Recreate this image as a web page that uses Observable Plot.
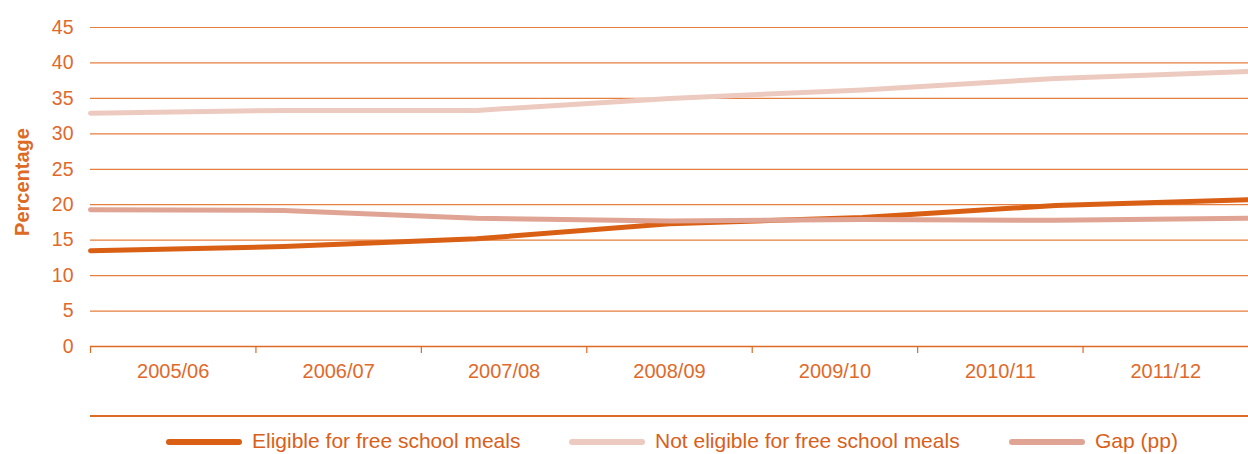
<!DOCTYPE html>
<html><head><meta charset="utf-8">
<script src="https://cdn.jsdelivr.net/npm/d3@7"></script>
<script src="https://cdn.jsdelivr.net/npm/@observablehq/plot@0.6"></script>
<style>
body{margin:0;background:#fff;font-family:"Liberation Sans",Arial,sans-serif;}
#wrap{position:relative;width:1248px;height:454px;overflow:hidden;}
#sep{position:absolute;left:90px;top:415px;width:1158px;height:0;border-top:2px solid #dd6a25;}
.item{position:absolute;top:429px;display:flex;align-items:flex-start;color:#d9601a;font-size:21px;line-height:24px;white-space:nowrap;}
.sw{width:76px;height:6px;border-radius:3px;margin-right:10px;margin-top:10px;}
</style></head>
<body>
<div id="wrap"><div id="chart"></div><div id="sep"></div><div id="legend"></div></div>
<script>
const years = ["2005/06","2006/07","2007/08","2008/09","2009/10","2010/11","2011/12"];
const eligible = [13.5,14.1,15.2,17.3,18.2,19.9,20.7];
const notEligible = [32.9,33.3,33.3,35.0,36.2,37.8,38.8];
const gap = [19.3,19.2,18.1,17.7,17.9,17.8,18.1];
const yTicks = [0,5,10,15,20,25,30,35,40,45];
const seriesNames = ["Eligible for free school meals","Not eligible for free school meals","Gap (pp)"];
const seriesColors = ["#d95f14","#edcac0","#e0a494"];
const legendLeft = [166,569,1009];

const n = years.length;
const rows = [];
[eligible, notEligible, gap].forEach((vals, s) => {
  vals.forEach((v, i) => rows.push({series: seriesNames[s], x: i * n / (n - 1), v}));
});
const centers = years.map((y, i) => i + 0.5);
const bounds = years.map((y, i) => i);
const textColor = "#e0692a";
const gridColor = "#e57f3f";

const chart = Plot.plot({
  width: 1248, height: 400,
  marginLeft: 90, marginRight: 0, marginTop: 27, marginBottom: 54,
  style: {fontFamily: '"Liberation Sans", Arial, sans-serif', background: "#fff", overflow: "visible"},
  x: {type: "linear", domain: [0, n]},
  y: {type: "linear", domain: [0, 45]},
  color: {domain: seriesNames, range: seriesColors},
  marks: [
    Plot.ruleY(yTicks.filter(d => d > 0), {stroke: gridColor, strokeWidth: 1.2}),
    Plot.ruleY([0], {stroke: "#dd6a25", strokeWidth: 1.5}),
    Plot.axisY({ticks: yTicks, tickSize: 0, tickPadding: 17, fontSize: 19.5, fill: textColor, label: null}),
    Plot.axisX({ticks: bounds, tickSize: 7, tickFormat: () => "", stroke: "#dd6a25", strokeWidth: 1.2, label: null}),
    Plot.axisX({ticks: centers, tickFormat: (d, i) => years[i], tickSize: 0, tickPadding: 17, fontSize: 20, fill: textColor, label: null}),
    Plot.line(rows, {x: "x", y: "v", z: "series", stroke: "series", strokeWidth: 5, strokeLinejoin: "round", strokeLinecap: "round"}),
    Plot.text(["Percentage"], {frameAnchor: "left", textAnchor: "middle", dx: -68, dy: -5, rotate: -90, fontSize: 20, fontWeight: "bold", fill: "#dd6a25"})
  ]
});
document.getElementById("chart").appendChild(chart);

const leg = document.getElementById("legend");
seriesNames.forEach((name, i) => {
  const it = document.createElement("div");
  it.className = "item";
  it.style.left = legendLeft[i] + "px";
  it.innerHTML = `<span class="sw" style="background:${seriesColors[i]}"></span><span>${name}</span>`;
  leg.appendChild(it);
});
</script>
</body></html>
